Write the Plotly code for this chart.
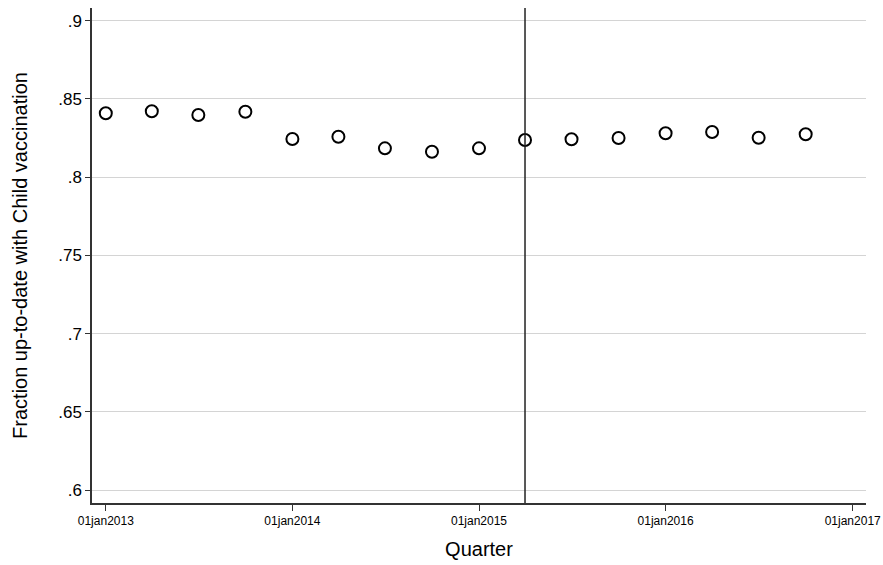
import plotly.graph_objects as go

# Quarterly share of children up to date with vaccinations
quarters = [
    "2013-01-01", "2013-04-01", "2013-07-01", "2013-10-01",
    "2014-01-01", "2014-04-01", "2014-07-01", "2014-10-01",
    "2015-01-01", "2015-04-01", "2015-07-01", "2015-10-01",
    "2016-01-01", "2016-04-01", "2016-07-01", "2016-10-01",
]
fraction_uptodate = [
    0.8408, 0.8421, 0.8397, 0.8418,
    0.8244, 0.8258, 0.8184, 0.8162,
    0.8184, 0.8237, 0.8242, 0.8250,
    0.8280, 0.8288, 0.8252, 0.8274,
]

# Policy change quarter marked with a vertical line
policy_quarter = "2015-04-01"

x_tick_vals = ["2013-01-01", "2014-01-01", "2015-01-01", "2016-01-01", "2017-01-01"]
x_tick_text = ["01jan2013", "01jan2014", "01jan2015", "01jan2016", "01jan2017"]
y_tick_vals = [0.6, 0.65, 0.7, 0.75, 0.8, 0.85, 0.9]
y_tick_text = [".6", ".65", ".7", ".75", ".8", ".85", ".9"]

font_family = "Liberation Sans, Arial, sans-serif"

fig = go.Figure()
fig.add_trace(go.Scatter(
    x=quarters,
    y=fraction_uptodate,
    mode="markers",
    marker=dict(symbol="circle-open", size=12, color="black",
                line=dict(width=2, color="black")),
    showlegend=False,
))

fig.add_shape(type="line", xref="x", yref="paper",
              x0=policy_quarter, x1=policy_quarter, y0=0, y1=1,
              line=dict(color="#222222", width=1.5))

fig.update_layout(
    width=883, height=565,
    margin=dict(l=92, r=17, t=8, b=62),
    paper_bgcolor="white",
    plot_bgcolor="white",
    font=dict(family=font_family, color="black"),
    xaxis=dict(
        type="date",
        range=["2012-12-05", "2017-01-27"],
        automargin=False,
        tickmode="array", tickvals=x_tick_vals, ticktext=x_tick_text,
        tickfont=dict(size=12, color="black"),
        ticks="outside", ticklen=6, tickwidth=1.2, tickcolor="#333333",
        showline=True, linecolor="#333333", linewidth=1.5,
        showgrid=False, zeroline=False,
        title=dict(text="Quarter", font=dict(size=20, color="black"), standoff=15),
    ),
    yaxis=dict(
        range=[0.5917, 0.9081],
        automargin=False,
        tickmode="array", tickvals=y_tick_vals, ticktext=y_tick_text,
        tickfont=dict(size=17, color="black"),
        ticks="outside", ticklen=5, tickwidth=1.2, tickcolor="#333333",
        showline=True, linecolor="#333333", linewidth=1.5,
        showgrid=True, gridcolor="#d4d4d4", gridwidth=1,
        zeroline=False,
        title=dict(text="Fraction up-to-date with Child vaccination",
                   font=dict(size=20, color="black"), standoff=25),
    ),
)

fig.write_html("out.html")
